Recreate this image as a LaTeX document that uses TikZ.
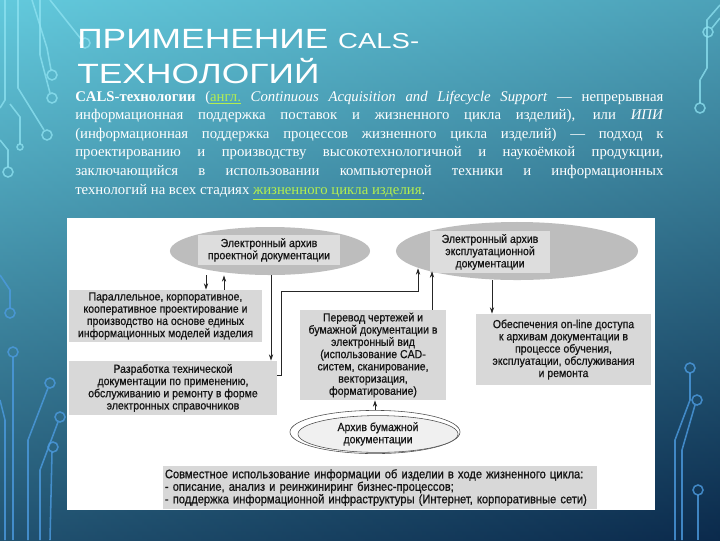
\documentclass[tikz,border=0pt]{standalone}
\usepackage{fontspec}
\setmainfont{Liberation Serif}
\newfontfamily\titlefont[FakeStretch=1.27]{Liberation Sans}
\newfontfamily\diafont[FakeStretch=0.9,FakeBold=0.7]{Liberation Sans}
\usetikzlibrary{shapes.geometric,arrows.meta}

\definecolor{skytop}{HTML}{63CADD}
\definecolor{skymid}{HTML}{2286B2}
\definecolor{skybot}{HTML}{0B2A4C}
\definecolor{tracecol}{HTML}{8FE3F2}
\definecolor{tracelow}{HTML}{4C9BE0}
\definecolor{boxgray}{HTML}{D8D8D8}
\definecolor{ellgray}{HTML}{BDBDBD}
\definecolor{lblgray}{HTML}{DDDDDD}
\definecolor{linkgreen}{HTML}{B4EE4E}

\tikzset{
  blk/.style={fill=boxgray, align=center, inner sep=1pt, text=black!92,
    font=\diafont\fontsize{8.3}{8.7}\selectfont},
  arch/.style={ellipse, fill=ellgray, inner sep=0pt},
  lbl/.style={blk, fill=lblgray},
  arr/.style={-{Stealth[length=4.5pt,width=3pt]}, line width=0.55pt, black!85},
  trace/.style={line width=1.1pt, tracecol, opacity=0.75},
  tracedn/.style={line width=1.1pt, tracelow, opacity=0.8}
}

\begin{document}
\begin{tikzpicture}[x=0.025cm, y=-0.025cm]
  \useasboundingbox (0,0) rectangle (720,540);
  % backdrop
  \shade[top color=skytop, middle color=skymid, bottom color=skybot] (0,0) rectangle (720,540);
  \shade[left color=skytop, right color=skybot, opacity=0.25] (0,0) rectangle (720,540);

  % circuit traces, left and right
  \draw[trace] (32,0) -- (47,48) -- (51,70);
  \draw[trace] (40,0) -- (40,55) -- (50,93);
  \draw[trace] (18,0) -- (18,88) -- (44,130);
  \draw[trace] (5,0) -- (5,100) -- (0,108);
  \draw[trace] (20,144) -- (20,117) -- (10,104);
  \draw[trace] (8,167) -- (8,150) -- (0,140);
  \draw[trace] (50,0) -- (81,39);
  \foreach \cx/\cy/\r in {52/75/5, 52/98/5, 47/135/5, 20/147/3, 8/172/5, 85/43/5}
    \draw[trace] (\cx,\cy) circle (\r);
  \draw[tracedn] (10,308) -- (10,290) -- (0,275);
  \draw[tracedn] (13,357) -- (13,540);
  \draw[tracedn] (48,388) -- (28,440) -- (28,540);
  \draw[tracedn] (58,422) -- (40,470) -- (40,540);
  \draw[tracedn] (52,452) -- (50,540);
  \draw[tracedn] (0,400) -- (5,420) -- (5,540);
  \foreach \cx/\cy in {10/313, 13/352, 50/383, 60/417, 53/447}
    \draw[tracedn] (\cx,\cy) circle (5);
  \draw[trace] (712,28) -- (720,18);
  \draw[trace] (700,103) -- (700,80) -- (707,68) -- (707,20) -- (720,5);
  \draw[tracedn] (690,373) -- (690,400) -- (675,440) -- (675,540);
  \draw[tracedn] (695,405) -- (682,450) -- (682,540);
  \draw[tracedn] (698,495) -- (698,540);
  \foreach \cx/\cy in {708/32, 700/108}
    \draw[trace] (\cx,\cy) circle (5);
  \foreach \cx/\cy in {690/368, 697/400, 698/490}
    \draw[tracedn] (\cx,\cy) circle (5);

  % heading and text
  \node[anchor=base west, inner sep=0, text=white, font=\titlefont\fontsize{19.8}{24}\selectfont] (head1) at (77,48)
    {ПРИМЕНЕНИЕ {\fontsize{15.4}{18}\selectfont CALS-}};
  \node[anchor=base west, inner sep=0, text=white, font=\titlefont\fontsize{19.8}{24}\selectfont] (head2) at (77,83)
    {ТЕХНОЛОГИЙ};
  \node[anchor=north west, inner sep=0, text width=14.7cm, align=justify, text=white,
    font=\fontsize{10.5}{13.2}\selectfont] (intro) at (75,88)
    {\hyphenpenalty=10000\strut\textbf{CALS-технологии} (\textcolor{linkgreen}{\underline{англ.}} \textit{Continuous Acquisition and Lifecycle Support}~— непрерывная\linebreak
     информационная поддержка поставок и жизненного цикла изделий), или \textit{ИПИ}\linebreak
     (информационная поддержка процессов жизненного цикла изделий)~— подход~к\linebreak
     проектированию и производству высокотехнологичной и наукоёмкой продукции,\linebreak
     заключающийся в использовании компьютерной техники и информационных\linebreak
     технологий на всех стадиях \textcolor{linkgreen}{\underline{жизненного цикла изделия}}.};

  % diagram
  \fill[white] (67,218) rectangle (655,510);
  \node[arch, minimum width=5cm, minimum height=1.2cm] (arcPr) at (270,251) {};
  \node[lbl, minimum width=3.55cm, minimum height=0.75cm] (arcPrT) at (269,250) {Электронный архив\\проектной документации};
  \node[arch, minimum width=6.05cm, minimum height=1.45cm] (arcEx) at (517,251) {};
  \node[lbl, minimum width=3cm, minimum height=1.03cm] (arcExT) at (490,252) {Электронный архив\\эксплуатационной\\документации};
  \node[blk, minimum width=4.83cm, minimum height=1.3cm] (boxA) at (165.5,316)
    {Параллельное, корпоративное,\\кооперативное проектирование и\\производство на основе единых\\информационных моделей изделия};
  \node[blk, minimum width=5.2cm, minimum height=1.35cm] (boxB) at (173,388)
    {Разработка технической\\документации по применению,\\обслуживанию и ремонту в форме\\электронных справочников};
  \node[blk, minimum width=3.65cm, minimum height=2.25cm] (boxC) at (373,355)
    {Перевод чертежей и\\бумажной документации в\\электронный вид\\(использование CAD-\\систем, сканирование,\\векторизация,\\форматирование)};
  \node[blk, minimum width=4.38cm, minimum height=1.78cm] (boxD) at (563.5,349.5)
    {Обеспечения on-line доступа\\к архивам документации в\\процессе обучения,\\эксплуатации, обслуживания\\и ремонта};
  \node[ellipse, draw=black!70, line width=0.4pt, minimum width=4.25cm, minimum height=1.08cm] (arcPapRim) at (375,432) {};
  \node[blk, ellipse, draw=black!70, fill=black!6, line width=0.4pt, inner sep=0pt,
    minimum width=4cm, minimum height=0.92cm] (arcPap) at (378,434) {Архив бумажной\\документации};
  \node[blk, text width=10.75cm, align=left, inner xsep=0.05cm, minimum height=1.08cm,
    font=\diafont\fontsize{8.8}{8.9}\selectfont] (boxE) at (380,487.5)
    {Совместное использование информации об изделии в ходе жизненного цикла:\\- описание, анализ и реинжиниринг бизнес-процессов;\\- поддержка информационной инфраструктуры (Интернет, корпоративные сети)};

  \draw[arr] (arcPr.south -| 206,0) -- (boxA.north -| 206,0);
  \draw[arr] (boxA.north -| 224,0) -- (arcPr.south -| 224,0);
  \draw[arr] (arcPr.south -| 271,0) -- (boxB.north -| 271,0);
  \draw[arr] (boxB.east |- 0,375) -- (281,375) |- (418,291) -- (arcEx.190 -| 418,0);
  \draw[arr] (boxC.north -| 432,0) -- (arcEx.193 -| 432,0);
  \draw[arr] (arcEx.south -| 492,0) -- (boxD.north -| 492,0);
  \draw[arr] (arcPapRim.north) -- (boxC.south -| arcPapRim.north);
\end{tikzpicture}
\end{document}
